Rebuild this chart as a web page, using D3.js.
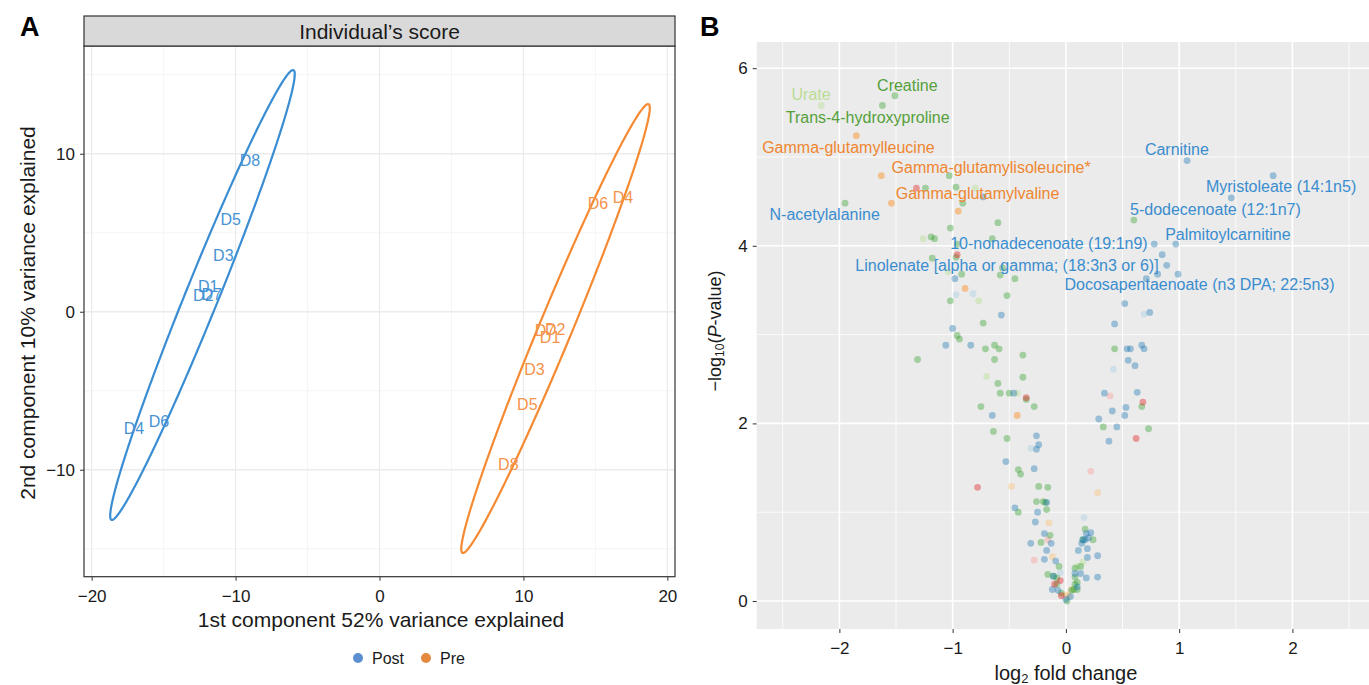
<!DOCTYPE html>
<html>
<head>
<meta charset="utf-8">
<script src="https://cdn.jsdelivr.net/npm/d3@7"></script>
<style>
  body { margin: 0; background: #fff; }
  svg text { font-family: "Liberation Sans", Arial, sans-serif; }
</style>
</head>
<body>
<div id="chart"></div>
<script>
// ---- panel A data (PCA individual scores) ----
var donors = ['D1', 'D2', 'D3', 'D4', 'D5', 'D6', 'D7', 'D8'];
var postPC1 = [-11.90, -12.24, -10.85, -17.06, -10.34, -15.32, -11.66, -9.00];
var postPC2 = [1.58, 1.01, 3.59, -7.36, 5.85, -6.96, 1.06, 9.56];
var prePC1 = [11.85, 12.20, 10.76, 16.92, 10.27, 15.18, 11.50, 8.95];
var prePC2 = [-1.62, -1.11, -3.65, 7.26, -5.86, 6.82, -1.16, -9.64];
// ellipse: centre, half diameter to top tip, half horizontal chord
var postEllipse = {cx: -12.30, cy: 1.06, ax: 6.29, ay: 14.24, bx: 1.24};
var preEllipse = {cx: 12.23, cy: -1.06, ax: 6.43, ay: 14.21, bx: 1.24};
var axisTicksA = [-20, -10, 0, 10, 20];
var yTicksA = [-10, 0, 10];

// ---- panel B data (volcano: [log2 FC, -log10 p]) ----
var greenPts = [[-1.62,5.58],[-1.51,5.69],[-1.03,4.79],[-1.24,4.65],[-0.97,4.66],[-0.91,4.48],[-1.95,4.48],
  [-1.02,4.20],[-0.60,4.26],[-1.19,4.10],[-1.16,4.08],[-0.65,4.08],[-0.96,4.02],[-1.18,3.86],[-0.97,3.87],
  [-0.92,3.68],[-0.58,3.67],[-0.45,3.63],[-0.56,3.75],[-1.02,3.38],[-0.52,3.44],[-0.73,3.13],[-0.96,2.99],
  [-0.94,2.95],[-0.71,2.84],[-0.63,2.88],[-0.59,2.84],[-0.38,2.77],[-1.31,2.72],[-0.63,2.72],[-0.38,2.52],
  [-0.60,2.45],[-0.58,2.34],[-0.50,2.34],[-0.35,2.27],[-0.75,2.19],[-0.28,2.19],[-0.64,1.91],[-0.52,1.83],
  [-0.42,1.48],[-0.40,1.43],[-0.24,1.29],[-0.16,1.28],[-0.26,1.12],[-0.20,1.12],[-0.18,1.11],[-0.42,1.00],
  [-0.17,1.03],[-0.14,0.74],[-0.22,0.66],[-0.06,0.39],[-0.16,0.30],[-0.08,0.26],[-0.08,0.19],[-0.04,0.09],
  [0.01,0.00],[0.05,0.12],[0.07,0.13],[0.10,0.13],[0.08,0.19],[0.10,0.21],[0.08,0.27],[0.08,0.37],
  [0.13,0.39],[0.15,0.69],[0.24,0.69],[0.17,0.81],[0.33,1.96],[0.67,2.19],[0.73,1.94],[0.43,2.84],
  [0.60,4.29],[-0.11,0.28]];
var lightGreenPts = [[-2.16,5.58],[-0.80,4.65],[-1.26,4.08],[-1.04,3.71],[-0.77,3.38],[-0.70,2.53],
  [-0.43,2.34],[0.10,0.39],[0.15,0.44]];
var bluePts = [[1.07,4.96],[1.83,4.79],[1.46,4.54],[0.78,4.02],[0.97,4.02],[0.85,3.90],[0.89,3.78],
  [0.71,3.63],[0.81,3.68],[0.99,3.68],[0.52,3.35],[0.74,3.25],[0.43,3.12],[0.54,2.84],[0.57,2.84],
  [0.67,2.88],[0.69,2.84],[0.55,2.71],[0.61,2.65],[0.34,2.34],[0.63,2.35],[0.41,2.14],[0.53,2.18],
  [0.52,2.09],[0.29,2.05],[0.45,1.96],[0.38,1.80],[-0.73,4.55],[-0.98,3.63],[-0.57,3.22],[-1.00,3.07],
  [-1.06,2.88],[-0.84,2.88],[-0.46,2.34],[-0.65,2.09],[-0.26,1.86],[-0.24,1.76],[-0.26,1.71],[-0.53,1.57],
  [-0.28,1.49],[-0.17,1.11],[-0.45,1.05],[-0.25,1.00],[-0.27,0.89],[-0.19,0.76],[-0.31,0.65],[-0.13,0.65],
  [-0.17,0.57],[-0.19,0.47],[-0.09,0.45],[-0.12,0.13],[-0.07,0.12],[0.04,0.05],[0.00,0.02],[0.10,0.16],
  [0.08,0.31],[0.13,0.31],[0.18,0.26],[0.28,0.27],[0.19,0.49],[0.28,0.51],[0.11,0.57],[0.19,0.59],
  [0.14,0.65],[0.15,0.69],[0.17,0.69],[0.20,0.71],[0.18,0.76],[0.22,0.77],[-0.11,0.28]];
var lightBluePts = [[-0.97,3.45],[-0.82,3.46],[-0.31,1.72],[-0.05,0.32],[0.16,0.94],[0.69,3.23],[0.42,2.61]];
var orangePts = [[-1.85,5.24],[-1.63,4.79],[-1.54,4.48],[-0.95,4.39],[-0.89,3.52],[-0.43,2.09]];
var lightOrangePts = [[-0.48,1.29],[-0.15,0.88],[-0.12,0.50],[0.00,0.07],[0.02,0.06],[0.28,1.22],[0.05,0.13]];
var redPts = [[-1.32,4.65],[-0.96,3.90],[-0.35,2.29],[-0.78,1.28],[-0.05,0.23],[-0.10,0.19],[-0.04,0.06],
  [0.68,2.24],[0.62,1.83]];
var pinkPts = [[-0.16,0.69],[-0.28,0.46],[0.22,1.46],[0.39,2.31]];

// labelled metabolites: name, colour group, label position [fc, p]
var labelNames = ['Urate', 'Creatine', 'Trans-4-hydroxyproline', 'Gamma-glutamylleucine',
  'Gamma-glutamylisoleucine*', 'Gamma-glutamylvaline', 'N-acetylalanine', 'Carnitine',
  'Myristoleate (14:1n5)', '5-dodecenoate (12:1n7)', 'Palmitoylcarnitine',
  '10-nonadecenoate (19:1n9)', 'Linolenate [alpha or gamma; (18:3n3 or 6)]',
  'Docosapentaenoate (n3 DPA; 22:5n3)'];
var labelGroups = ['lgreen', 'green', 'green', 'orange', 'orange', 'orange', 'blue', 'blue',
  'blue', 'blue', 'blue', 'blue', 'blue', 'blue'];
var labelPos = [[-2.25,5.70],[-1.40,5.81],[-1.75,5.45],[-1.92,5.11],[-0.66,4.88],[-0.78,4.59],
  [-2.13,4.35],[0.98,5.08],[1.90,4.67],[1.32,4.41],[1.43,4.13],[-0.15,4.03],[-0.52,3.78],[1.18,3.56]];
var xTicksB = [-2, -1, 0, 1, 2];
var yTicksB = [0, 2, 4, 6];

var W = 1369, H = 685;
var svg = d3.select('#chart').append('svg').attr('width', W).attr('height', H);
var minus = function (v) { return String(v).replace('-', '\u2212'); };

// ================= panel A =================
var xA = d3.scaleLinear().domain([-20.53, 20.53]).range([84, 675]);
var yA = d3.scaleLinear().domain([-16.77, 16.82]).range([576.7, 46]);
var gA = svg.append('g');

// grid
[-15, -5, 5, 15].forEach(function (v) {
  gA.append('line').attr('x1', xA(v)).attr('x2', xA(v)).attr('y1', 46).attr('y2', 576.7)
    .attr('stroke', '#f2f2f2').attr('stroke-width', 0.8);
});
[-15, -5, 5, 15].forEach(function (v) {
  gA.append('line').attr('y1', yA(v)).attr('y2', yA(v)).attr('x1', 84).attr('x2', 675)
    .attr('stroke', '#f2f2f2').attr('stroke-width', 0.8);
});
axisTicksA.forEach(function (v) {
  gA.append('line').attr('x1', xA(v)).attr('x2', xA(v)).attr('y1', 46).attr('y2', 576.7)
    .attr('stroke', '#ebebeb').attr('stroke-width', 1.3);
});
yTicksA.forEach(function (v) {
  gA.append('line').attr('y1', yA(v)).attr('y2', yA(v)).attr('x1', 84).attr('x2', 675)
    .attr('stroke', '#ebebeb').attr('stroke-width', 1.3);
});

// ellipses
function ellipsePath(e) {
  var ts = d3.range(0, 2 * Math.PI + 0.01, 0.02);
  return d3.line()
    .x(function (t) { return xA(e.cx + e.ax * Math.cos(t) + e.bx * Math.sin(t)); })
    .y(function (t) { return yA(e.cy + e.ay * Math.cos(t)); })(ts);
}
gA.append('path').attr('d', ellipsePath(postEllipse)).attr('fill', 'none')
  .attr('stroke', '#3a8dd2').attr('stroke-width', 2.2);
gA.append('path').attr('d', ellipsePath(preEllipse)).attr('fill', 'none')
  .attr('stroke', '#f58a32').attr('stroke-width', 2.2);

// donor labels
donors.forEach(function (d, i) {
  gA.append('text').attr('x', xA(postPC1[i])).attr('y', yA(postPC2[i]))
    .attr('text-anchor', 'middle').attr('dominant-baseline', 'central')
    .attr('font-size', 16).attr('fill', '#4693d4').text(d);
  gA.append('text').attr('x', xA(prePC1[i])).attr('y', yA(prePC2[i]))
    .attr('text-anchor', 'middle').attr('dominant-baseline', 'central')
    .attr('font-size', 16).attr('fill', '#f4934a').text(d);
});

// border + strip
gA.append('rect').attr('x', 84).attr('y', 46).attr('width', 591).attr('height', 530.7)
  .attr('fill', 'none').attr('stroke', '#333').attr('stroke-width', 1.2);
gA.append('rect').attr('x', 84).attr('y', 16).attr('width', 591).attr('height', 30)
  .attr('fill', '#d9d9d9').attr('stroke', '#333').attr('stroke-width', 1.2);
gA.append('text').attr('x', 379.5).attr('y', 31).attr('text-anchor', 'middle')
  .attr('dominant-baseline', 'central').attr('font-size', 21).attr('fill', '#1a1a1a')
  .text('Individual\u2019s score');

// axes
var axA = gA.append('g').attr('transform', 'translate(0,576.7)')
  .call(d3.axisBottom(xA).tickValues(axisTicksA).tickSize(4).tickPadding(6).tickFormat(minus));
var ayA = gA.append('g').attr('transform', 'translate(84,0)')
  .call(d3.axisLeft(yA).tickValues(yTicksA).tickSize(4).tickPadding(5).tickFormat(minus));
[axA, ayA].forEach(function (a) {
  a.select('.domain').remove();
  a.selectAll('line').attr('stroke', '#333');
  a.selectAll('text').attr('font-size', 17).attr('fill', '#1a1a1a')
    .style('font-family', '"Liberation Sans", Arial, sans-serif');
});
axA.selectAll('text').attr('dy', '0.9em');
gA.append('text').attr('x', 381).attr('y', 619).attr('text-anchor', 'middle')
  .attr('dominant-baseline', 'central').attr('font-size', 21).attr('fill', '#1a1a1a')
  .text('1st component 52% variance explained');
gA.append('text').attr('transform', 'translate(27,313) rotate(-90)').attr('text-anchor', 'middle')
  .attr('dominant-baseline', 'central').attr('font-size', 21).attr('fill', '#1a1a1a')
  .text('2nd component 10% variance explained');

// legend
var legend = [['Post', '#5b8fd0', 358], ['Pre', '#e38a3e', 426]];
legend.forEach(function (l) {
  gA.append('circle').attr('cx', l[2]).attr('cy', 658).attr('r', 5).attr('fill', l[1]);
  gA.append('text').attr('x', l[2] + 14).attr('y', 658).attr('dominant-baseline', 'central')
    .attr('font-size', 16).attr('fill', '#1a1a1a').text(l[0]);
});

// panel tags
svg.append('text').attr('x', 20).attr('y', 36).attr('font-size', 27).attr('font-weight', 'bold')
  .text('A');
svg.append('text').attr('x', 700).attr('y', 36).attr('font-size', 27).attr('font-weight', 'bold')
  .text('B');

// ================= panel B =================
var xB = d3.scaleLinear().domain([-2.73, 2.73]).range([756.7, 1375.1]);
var yB = d3.scaleLinear().domain([-0.315, 6.295]).range([629, 42]);
var gB = svg.append('g');
gB.append('rect').attr('x', 756.7).attr('y', 42).attr('width', W - 756.7).attr('height', 587)
  .attr('fill', '#ebebeb');
[-2.5, -1.5, -0.5, 0.5, 1.5, 2.5].forEach(function (v) {
  gB.append('line').attr('x1', xB(v)).attr('x2', xB(v)).attr('y1', 42).attr('y2', 629)
    .attr('stroke', '#fff').attr('stroke-width', 0.8);
});
[1, 3, 5].forEach(function (v) {
  gB.append('line').attr('y1', yB(v)).attr('y2', yB(v)).attr('x1', 756.7).attr('x2', W)
    .attr('stroke', '#fff').attr('stroke-width', 0.8);
});
xTicksB.forEach(function (v) {
  gB.append('line').attr('x1', xB(v)).attr('x2', xB(v)).attr('y1', 42).attr('y2', 629)
    .attr('stroke', '#fff').attr('stroke-width', 1.6);
});
yTicksB.forEach(function (v) {
  gB.append('line').attr('y1', yB(v)).attr('y2', yB(v)).attr('x1', 756.7).attr('x2', W)
    .attr('stroke', '#fff').attr('stroke-width', 1.6);
});

var groups = [
  [lightGreenPts, '#b2df8a'], [lightBluePts, '#a6cee3'], [lightOrangePts, '#fdbf6f'],
  [pinkPts, '#fb9a99'], [greenPts, '#33a02c'], [bluePts, '#1f78b4'],
  [orangePts, '#ff7f00'], [redPts, '#e31a1c']
];
groups.forEach(function (g) {
  gB.selectAll(null).data(g[0]).enter().append('circle')
    .attr('cx', function (d) { return xB(d[0]); })
    .attr('cy', function (d) { return yB(d[1]); })
    .attr('r', 3.4).attr('fill', g[1]).attr('fill-opacity', 0.4);
});

var labelColour = {blue: '#3a8dcf', green: '#55a03b', orange: '#ef8630', lgreen: '#bcdd95'};
labelNames.forEach(function (n, i) {
  gB.append('text').attr('x', xB(labelPos[i][0])).attr('y', yB(labelPos[i][1]))
    .attr('text-anchor', 'middle').attr('dominant-baseline', 'central')
    .attr('font-size', 16).attr('fill', labelColour[labelGroups[i]]).text(n);
});

var axB = gB.append('g').attr('transform', 'translate(0,629)')
  .call(d3.axisBottom(xB).tickValues(xTicksB).tickSize(4).tickPadding(6).tickFormat(minus));
var ayB = gB.append('g').attr('transform', 'translate(756.7,0)')
  .call(d3.axisLeft(yB).tickValues(yTicksB).tickSize(4).tickPadding(5).tickFormat(minus));
[axB, ayB].forEach(function (a) {
  a.select('.domain').remove();
  a.selectAll('line').attr('stroke', '#333');
  a.selectAll('text').attr('font-size', 17).attr('fill', '#1a1a1a')
    .style('font-family', '"Liberation Sans", Arial, sans-serif');
});
axB.selectAll('text').attr('dy', '0.9em');

var xt = gB.append('text').attr('x', xB(0)).attr('y', 673).attr('text-anchor', 'middle')
  .attr('dominant-baseline', 'central').attr('font-size', 20).attr('fill', '#1a1a1a');
xt.append('tspan').text('log');
xt.append('tspan').attr('font-size', 13).attr('dy', 5).text('2');
xt.append('tspan').attr('dy', -5).text(' fold change');

var yt = gB.append('text').attr('transform', 'translate(715,331) rotate(-90)')
  .attr('text-anchor', 'middle').attr('dominant-baseline', 'central')
  .attr('font-size', 18).attr('fill', '#1a1a1a');
yt.append('tspan').text('\u2212log');
yt.append('tspan').attr('font-size', 12).attr('dy', 5).text('10');
yt.append('tspan').attr('dy', -5).text('(');
yt.append('tspan').attr('font-style', 'italic').text('P');
yt.append('tspan').text('-value)');
</script>
</body>
</html>
